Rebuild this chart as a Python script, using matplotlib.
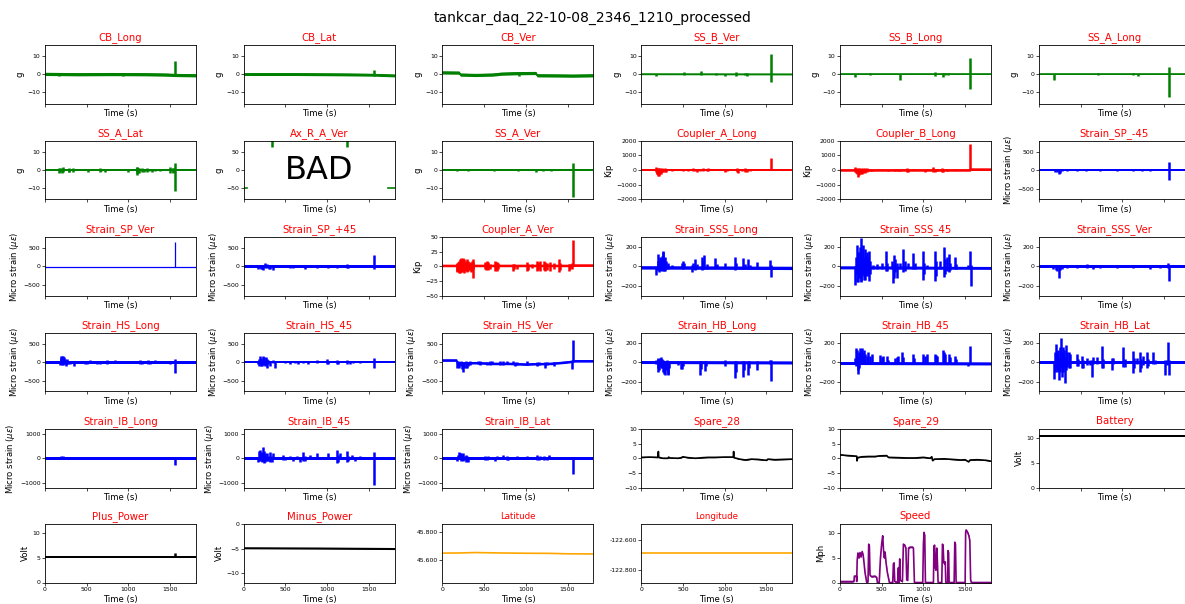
import numpy as np
import matplotlib
matplotlib.use("Agg")
import matplotlib.pyplot as plt
from matplotlib.ticker import FormatStrFormatter

# ---------- channel data ----------
# *_BASE: slow trace as (time s, value)
# *_BURST: short oscillation bursts as (time s, min, max)

CB_LONG_BASE = [(0, 0.2), (400, 0.0), (800, 0.1), (1200, 0.0), (1450, -0.2),
                (1560, -0.4), (1810, -0.6)]
CB_LONG_BURST = [(162, -1.2, 0.5), (940, -1.0, 0.5), (1558, -1.0, 7.5)]
CB_LAT_BASE = [(0, 0.1), (600, 0.1), (1200, -0.1), (1560, -0.3), (1810, -0.7)]
CB_LAT_BURST = [(1562, -0.8, 2.5)]
CB_VER_BASE = [(0, 1.0), (200, 0.9), (215, -0.2), (400, -0.4), (600, -0.2), (700, 0.3),
               (900, 0.6), (1120, 0.7), (1135, -0.6), (1400, -0.7), (1560, -0.8),
               (1810, -0.6)]
CB_VER_BURST = [(920, -0.9, 0.6)]
SS_B_VER_BASE = [(0, 0.1), (1810, 0.0)]
SS_B_VER_BURST = [(176, -1.2, 0.4), (512, -0.3, 1.0), (716, -0.5, 1.6), (892, -0.3, 0.9),
                  (1004, -0.9, 0.4), (1136, -1.0, 1.2), (1244, -0.4, 0.8),
                  (1264, -0.8, 0.6), (1556, -4.5, 11.5)]
SS_B_LONG_BASE = [(0, 0.0), (1810, 0.0)]
SS_B_LONG_BURST = [(180, -1.5, 0.3), (360, -0.3, 0.6), (720, -3.0, 0.3), (1140, -0.8, 1.2),
                   (1232, -1.8, 0.8), (1260, -0.5, 0.6), (1300, -0.3, 0.6),
                   (1564, -8.5, 9.0)]
SS_A_LONG_BASE = [(0, 0.0), (1810, 0.0)]
SS_A_LONG_BURST = [(180, -3.0, 0.3), (712, -0.3, 0.5), (1132, -0.3, 0.8),
                   (1182, -0.8, 0.3), (1560, -12.5, 4.0)]
SS_A_LAT_BASE = [(0, 0.0), (1810, 0.0)]
SS_A_LAT_BURST = [(172, -1.5, 1.2), (180, -1.0, 1.0), (202, -1.8, 1.3), (220, -1.2, 1.5),
                  (282, -1.2, 1.0), (290, -1.0, 0.8), (340, -1.0, 1.2), (520, -1.0, 0.8),
                  (660, -1.2, 1.1), (668, -0.8, 0.8), (720, -1.3, 0.5), (1000, -1.0, 0.5),
                  (1100, -1.5, 1.5), (1106, -2.8, 1.8), (1112, -1.5, 1.2),
                  (1132, -1.5, 1.3), (1162, -1.2, 1.2), (1190, -1.3, 0.6),
                  (1222, -1.2, 1.0), (1250, -0.8, 0.8), (1282, -1.0, 0.6),
                  (1320, -0.8, 0.8), (1380, -0.6, 0.8), (1502, -1.5, 1.5),
                  (1532, -1.5, 1.2), (1540, -1.0, 1.0), (1560, -12.0, 3.8)]
AX_R_A_VER_BASE = [(0, -50), (36, -50), (37, np.nan), (1728, -50), (1810, -50)]
AX_R_A_VER_BURST = [(336, 64, 90), (1236, 64, 90)]
SS_A_VER_BASE = [(0, 0.0), (1810, 0.0)]
SS_A_VER_BURST = [(172, -0.8, 0.3), (302, -0.3, 0.6), (622, -0.8, 0.3), (902, -0.3, 0.7),
                  (1122, -1.0, 0.8), (1202, -0.7, 0.3), (1302, -0.3, 0.6),
                  (1564, -15.0, 4.0)]
COUPLER_A_LONG_BASE = [(0, 0), (1810, 0)]
COUPLER_A_LONG_BURST = [(176, -100, 200), (184, -250, 150), (192, -300, 100),
                        (200, -440, 120), (208, -400, 150), (216, -200, 100),
                        (224, -300, 150), (236, -250, 100), (248, -150, 120),
                        (264, -100, 100), (280, -150, 150), (296, -100, 100),
                        (364, -50, 100), (424, -30, 80), (504, -80, 30), (564, -50, 100),
                        (624, -80, 150), (640, -60, 60), (664, -100, 80), (704, -50, 80),
                        (744, -80, 120), (784, -80, 60), (804, -60, 150), (844, -30, 50),
                        (1004, -150, 50), (1024, -50, 100), (1144, -100, 150),
                        (1164, -200, 80), (1204, -50, 100), (1244, -150, 150),
                        (1264, -150, 50), (1304, -50, 100), (1404, -30, 50),
                        (1556, 0, 850)]
COUPLER_B_LONG_BASE = [(0, 0), (1562, 0), (1566, 50), (1810, 50)]
COUPLER_B_LONG_BURST = [(180, -100, 200), (190, -200, 150), (200, -300, 100),
                        (212, -450, 120), (224, -350, 150), (236, -200, 100),
                        (248, -300, 150), (260, -250, 100), (272, -200, 120),
                        (288, -150, 100), (304, -200, 150), (320, -100, 150),
                        (360, -50, 100), (380, -50, 30), (520, -30, 50), (580, -80, 30),
                        (660, -50, 100), (700, -50, 80), (720, -80, 30), (800, -100, 150),
                        (820, -100, 50), (880, -30, 50), (1020, -150, 30), (1040, -30, 50),
                        (1120, -150, 200), (1140, -150, 80), (1160, -50, 100),
                        (1220, -100, 150), (1240, -150, 60), (1280, -50, 100),
                        (1380, -30, 50), (1564, 0, 1800)]
STRAIN_SP_M45_BASE = [(0, 0), (1810, 0)]
STRAIN_SP_M45_BURST = [(192, -60, 20), (212, -40, 20), (240, -120, 20), (252, -80, 20),
                       (272, -20, 30), (332, -20, 20), (452, -20, 40), (560, -20, 30),
                       (732, -20, 30), (932, -20, 20), (1132, -20, 30), (1232, -20, 20),
                       (1332, -20, 20), (1560, -270, 230)]
STRAIN_SP_VER_BASE = [(0, -25), (1810, -25)]
STRAIN_SP_VER_BURST = [(1560, -25, 650)]
STRAIN_SP_P45_BASE = [(0, 0), (1810, 0)]
STRAIN_SP_P45_BURST = [(176, -80, 20), (190, -40, 50), (204, -70, 30), (220, -60, 40),
                       (236, -90, 30), (256, -40, 80), (276, -50, 60), (300, -60, 20),
                       (316, -60, 30), (356, -90, 20), (396, -20, 40), (476, -20, 30),
                       (556, -30, 50), (596, -50, 20), (676, -20, 40), (736, -70, 20),
                       (796, -20, 30), (876, -50, 20), (1016, -30, 20), (1116, -50, 50),
                       (1236, -50, 70), (1256, -40, 30), (1316, -20, 30), (1396, -20, 20),
                       (1564, -60, 300)]
COUPLER_A_VER_BASE = [(0, 1.5), (1560, 1.5), (1566, 2.0), (1810, 2.0)]
COUPLER_A_VER_BURST = [(172, -10, 5), (180, -8, 6), (188, -6, 8), (196, -12, 8),
                       (204, -8, 10), (212, -12, 12), (220, -10, 14), (228, -8, 10),
                       (236, -10, 12), (244, -6, 15), (252, -8, 10), (260, -12, 12),
                       (268, -6, 8), (280, -8, 10), (292, -10, 13), (300, -6, 8),
                       (312, -8, 10), (320, -6, 6), (330, -5, 8), (340, -10, 5),
                       (352, -6, 10), (364, -20, 13), (372, -5, 8), (512, -5, 8),
                       (524, -6, 5), (536, -5, 10), (552, -6, 8), (568, -5, 5),
                       (632, -8, 10), (644, -5, 8), (656, -8, 8), (672, -5, 6),
                       (852, -8, 5), (864, -5, 4), (892, -5, 3), (1012, -8, 8),
                       (1024, -6, 5), (1072, -3, 5), (1132, -8, 10), (1144, -6, 8),
                       (1164, -8, 10), (1212, -6, 10), (1232, -8, 8), (1252, -6, 6),
                       (1292, -8, 8), (1332, -5, 6), (1392, -10, 12), (1404, -6, 6),
                       (1512, -8, 5), (1532, -5, 5), (1552, -4, 6), (1564, 2, 46)]
STRAIN_SSS_LONG_BASE = [(0, -10), (1810, -15)]
STRAIN_SSS_LONG_BURST = [(176, -90, -10), (196, -40, 60), (204, -40, 130), (212, -60, 60),
                         (224, -40, 100), (236, -50, 80), (244, -30, 110), (256, -50, 160),
                         (264, -40, 150), (276, -50, 80), (288, -50, 100), (300, -30, 60),
                         (320, -30, 40), (364, -20, 20), (484, -20, 40), (500, -30, 60),
                         (516, -20, 40), (604, -60, 10), (624, -30, 40), (644, -40, 80),
                         (664, -30, 30), (724, -40, 100), (736, -30, 60), (752, -30, 120),
                         (784, -30, 30), (884, -20, 90), (904, -20, 30), (1004, -20, 40),
                         (1124, -40, 100), (1140, -30, 40), (1224, -30, 90),
                         (1240, -20, 30), (1284, -30, 75), (1300, -20, 20),
                         (1384, -20, 50), (1544, -10, 70), (1556, -110, 20)]
STRAIN_SSS_45_BASE = [(0, -10), (1810, -15)]
STRAIN_SSS_45_BURST = [(180, -190, 0), (192, -80, 100), (200, -160, 220), (212, -100, 150),
                       (220, -160, 120), (232, -120, 150), (240, -80, 200),
                       (248, -150, 290), (256, -160, 180), (268, -100, 150),
                       (280, -80, 220), (292, -140, 100), (300, -140, 180),
                       (312, -100, 120), (324, -80, 150), (340, -100, 100),
                       (352, -150, 160), (364, -80, 60), (400, -30, 20), (440, -30, 30),
                       (500, -30, 40), (552, -50, 160), (568, -50, 40), (620, -30, 60),
                       (640, -170, 20), (652, -120, 120), (664, -60, 80), (680, -120, 40),
                       (720, -30, 40), (760, -60, 180), (776, -50, 60), (820, -20, 40),
                       (880, -30, 140), (896, -30, 40), (1000, -140, 160),
                       (1012, -80, 40), (1040, -20, 20), (1140, -150, 160),
                       (1152, -100, 60), (1200, -30, 60), (1248, -110, 200),
                       (1260, -80, 80), (1280, -50, 100), (1308, -60, 130),
                       (1320, -40, 40), (1380, -30, 100), (1396, -30, 30),
                       (1540, -20, 20), (1560, -30, 160), (1568, -200, 20)]
STRAIN_SSS_VER_BASE = [(0, 0), (1810, 0)]
STRAIN_SSS_VER_BURST = [(172, -30, 10), (200, -40, 20), (212, -50, 10), (240, -120, 10),
                        (256, -40, 10), (272, -30, 10), (332, -20, 20), (452, -20, 20),
                        (572, -20, 30), (652, -30, 20), (732, -20, 20), (932, -20, 20),
                        (1132, -20, 20), (1332, -30, 20), (1452, -20, 20),
                        (1552, -20, 40), (1560, -150, 10)]
STRAIN_HS_LONG_BASE = [(0, -10), (1810, -10)]
STRAIN_HS_LONG_BURST = [(180, -80, 40), (188, -60, 170), (196, -40, 120), (204, -80, 150),
                        (212, -60, 80), (220, -80, 160), (232, -40, 130), (244, -60, 80),
                        (256, -100, 60), (268, -40, 80), (280, -60, 40), (300, -40, 30),
                        (348, -100, 20), (480, -40, 40), (500, -40, 30), (540, -30, 50),
                        (580, -30, 20), (620, -40, 30), (660, -40, 20), (740, -40, 60),
                        (760, -30, 30), (840, -20, 60), (880, -20, 20), (1000, -30, 40),
                        (1140, -50, 60), (1160, -40, 30), (1240, -40, 60),
                        (1260, -40, 30), (1320, -30, 50), (1380, -20, 40),
                        (1500, -40, 20), (1520, -20, 30), (1560, -300, 90)]
STRAIN_HS_45_BASE = [(0, 0), (1810, 0)]
STRAIN_HS_45_BURST = [(176, -40, 30), (188, -100, 80), (196, -60, 150), (208, -120, 120),
                      (216, -100, 60), (228, -60, 150), (240, -90, 130), (256, -120, 60),
                      (268, -80, 130), (280, -150, 80), (296, -60, 60), (316, -120, 40),
                      (356, -30, 60), (376, -150, 20), (496, -30, 40), (556, -40, 30),
                      (616, -20, 40), (656, -60, 20), (716, -20, 40), (776, -40, 20),
                      (876, -20, 50), (996, -40, 70), (1016, -40, 20), (1116, -40, 50),
                      (1136, -40, 20), (1236, -50, 60), (1276, -50, 20), (1316, -20, 40),
                      (1396, -20, 30), (1560, -150, 100)]
STRAIN_HS_VER_BASE = [(0, 50), (170, 50), (180, -30), (400, -20), (600, -40), (800, -40),
                      (1000, -60), (1100, -50), (1300, -40), (1450, -10), (1500, 0),
                      (1560, 20), (1570, 30), (1810, 30)]
STRAIN_HS_VER_BURST = [(180, -150, 20), (192, -100, 30), (204, -150, -20), (220, -120, 20),
                       (236, -200, 0), (252, -280, -30), (264, -150, 10), (280, -150, 20),
                       (292, -150, 0), (312, -100, 10), (332, -80, 20), (432, -60, 20),
                       (452, -70, 30), (532, -80, 10), (572, -80, 40), (592, -60, 30),
                       (692, -70, 20), (732, -70, 40), (772, -60, 30), (852, -60, 40),
                       (872, -100, 0), (892, -80, 0), (1012, -90, 30), (1132, -120, 0),
                       (1152, -80, 0), (1232, -150, 0), (1252, -80, 10), (1340, -100, 0),
                       (1556, -200, 0), (1564, 0, 600)]
STRAIN_HB_LONG_BASE = [(0, 0), (1810, -5)]
STRAIN_HB_LONG_BURST = [(176, -20, 20), (196, -60, 30), (204, -100, 40), (212, -80, 20),
                        (224, -40, 40), (236, -60, 50), (248, -60, 30), (264, -100, 20),
                        (276, -120, 10), (284, -130, 10), (296, -80, 10), (304, -60, 20),
                        (316, -120, 0), (324, -130, 0), (336, -60, 10), (444, -30, 10),
                        (476, -70, 10), (484, -70, 0), (496, -40, 10), (704, -130, 10),
                        (716, -70, 10), (764, -90, 10), (780, -40, 10), (1004, -40, 20),
                        (1124, -160, 10), (1132, -100, 10), (1224, -150, 10),
                        (1232, -80, 10), (1284, -130, 10), (1292, -60, 10),
                        (1384, -80, 10), (1548, -20, 20), (1556, -190, 20)]
STRAIN_HB_45_BASE = [(0, -10), (1810, -15)]
STRAIN_HB_45_BURST = [(180, -20, 40), (196, -40, 140), (204, -20, 120), (212, -80, 60),
                      (220, -120, 20), (232, -60, 100), (244, -20, 140), (256, -20, 120),
                      (268, -20, 140), (280, -20, 90), (292, -20, 120), (304, -20, 80),
                      (320, -20, 60), (340, -20, 100), (360, -20, 60), (380, -20, 80),
                      (480, -20, 70), (500, -20, 50), (520, -20, 60), (560, -20, 60),
                      (580, -20, 20), (660, -20, 40), (680, -20, 50), (700, -20, 60),
                      (740, -20, 100), (752, -20, 50), (880, -20, 80), (892, -20, 40),
                      (1000, -20, 80), (1020, -20, 60), (1040, -20, 80), (1140, -20, 80),
                      (1152, -20, 70), (1164, -20, 60), (1240, -20, 120),
                      (1252, -20, 100), (1264, -20, 80), (1308, -20, 80), (1320, -20, 50),
                      (1380, -20, 60), (1392, -20, 30), (1540, -40, -10), (1560, -20, 160)]
STRAIN_HB_LAT_BASE = [(0, 0), (1810, 0)]
STRAIN_HB_LAT_BURST = [(180, -170, 0), (188, -100, 100), (200, -60, 190), (212, -100, 100),
                       (224, -80, 120), (244, -180, 50), (252, -100, 150), (260, -50, 250),
                       (272, -150, 100), (284, -100, 150), (300, -60, 120),
                       (316, -220, 50), (328, -80, 170), (340, -50, 100), (356, -60, 100),
                       (372, -60, 80), (452, -40, 80), (472, -40, 30), (512, -60, 60),
                       (532, -60, 20), (572, -30, 40), (612, -30, 20), (632, -150, 20),
                       (652, -20, 50), (692, -20, 50), (752, -60, 160), (772, -60, 30),
                       (872, -80, 40), (892, -20, 40), (1012, -50, 150), (1032, -50, 30),
                       (1132, -110, 110), (1144, -60, 40), (1172, -20, 40),
                       (1212, -100, 100), (1224, -60, 30), (1252, -30, 60),
                       (1292, -60, 100), (1312, -40, 30), (1372, -20, 100),
                       (1392, -20, 20), (1512, -130, 20), (1532, -30, 20),
                       (1552, -20, 210), (1564, -130, 20)]
STRAIN_IB_LONG_BASE = [(0, 0), (1810, 0)]
STRAIN_IB_LONG_BURST = [(180, -30, 60), (192, -40, 80), (204, -30, 60), (220, -50, 80),
                        (236, -40, 40), (260, -30, 40), (300, -30, 20), (480, -20, 20),
                        (560, -20, 20), (660, -30, 20), (740, -20, 40), (860, -20, 30),
                        (1000, -20, 20), (1140, -20, 40), (1220, -20, 20),
                        (1300, -20, 30), (1560, -280, 0)]
STRAIN_IB_45_BASE = [(0, 0), (1810, 0)]
STRAIN_IB_45_BURST = [(176, -150, 30), (188, -100, 300), (196, -60, 350), (208, -100, 200),
                      (220, -150, 250), (236, -100, 450), (248, -200, 300),
                      (260, -150, 200), (276, -100, 200), (296, -100, 100),
                      (316, -150, 250), (336, -150, 100), (356, -50, 200), (376, -50, 50),
                      (476, -80, 150), (496, -80, 50), (556, -50, 100), (596, -100, 50),
                      (636, -30, 80), (676, -150, 50), (716, -100, 250), (736, -100, 80),
                      (796, -50, 150), (876, -50, 200), (896, -30, 50), (1016, -50, 200),
                      (1036, -30, 50), (1116, -200, 350), (1128, -150, 150),
                      (1156, -50, 200), (1236, -150, 300), (1256, -100, 100),
                      (1296, -50, 150), (1336, -100, 50), (1396, -30, 80), (1556, 0, 250),
                      (1564, -1100, 0)]
STRAIN_IB_LAT_BASE = [(0, 0), (1810, 0)]
STRAIN_IB_LAT_BURST = [(172, -100, 50), (184, -50, 150), (196, -40, 250), (208, -50, 200),
                       (220, -100, 200), (236, -60, 150), (252, -100, 200), (268, -80, 100),
                       (280, -150, 150), (296, -100, 100), (312, -150, 50), (352, -50, 50),
                       (372, -50, 30), (512, -80, 100), (532, -80, 50), (552, -40, 100),
                       (632, -100, 40), (652, -50, 100), (672, -50, 30), (732, -50, 150),
                       (752, -50, 60), (772, -80, 100), (792, -80, 30), (892, -50, 100),
                       (912, -50, 30), (1012, -50, 100), (1032, -50, 30),
                       (1132, -80, 150), (1152, -80, 60), (1172, -30, 100),
                       (1212, -60, 80), (1252, -60, 40), (1272, -50, 120),
                       (1292, -50, 30), (1412, -20, 50), (1564, -650, 0)]
SPARE_28_BASE = [(0, 0.3), (100, 0.4), (200, 0.3), (206, 2.3), (210, 0.3), (260, 0.0),
                 (320, 0.0), (330, 0.4), (340, 0.1), (440, 0.0), (480, 0.2), (500, 0.5),
                 (560, 0.2), (650, 0.0), (740, 0.2), (800, 0.3), (880, 0.3), (1000, 0.4),
                 (1104, 0.4), (1108, 2.3), (1112, 0.2), (1180, -0.3), (1250, -0.6),
                 (1320, -0.3), (1400, -0.4), (1500, -0.7), (1520, -0.3), (1600, -0.5),
                 (1700, -0.4), (1810, -0.3)]
SPARE_29_BASE = [(0, 1.2), (60, 1.0), (100, 0.9), (160, 0.8), (200, 0.7), (204, -0.9),
                 (210, 0.2), (260, 0.5), (340, 0.6), (420, 0.6), (470, 0.8), (560, 0.9),
                 (580, 0.3), (700, 0.2), (800, 0.1), (900, 0.1), (1000, 0.3), (1080, 0.0),
                 (1100, 0.5), (1110, -0.8), (1130, -0.3), (1250, -0.2), (1350, -0.4),
                 (1450, -0.6), (1500, -0.5), (1540, -1.2), (1560, -0.6), (1650, -0.5),
                 (1750, -0.7), (1810, -1.0)]
BATTERY_BASE = [(0, 10.5), (1810, 10.5)]
PLUS_POWER_BASE = [(0, 5.2), (1810, 5.2)]
PLUS_POWER_BURST = [(1558, 5.2, 6.0)]
MINUS_POWER_BASE = [(0, -4.9), (900, -4.95), (1810, -5.05)]
LATITUDE_BASE = [(0, 45.647), (200, 45.648), (400, 45.651), (700, 45.648), (1000, 45.646),
                 (1300, 45.645), (1500, 45.642), (1810, 45.641)]
LONGITUDE_BASE = [(0, -122.687), (1810, -122.687)]
SPEED_BASE = [(0, 0.2), (150, 0.2), (168, 0.3), (172, 1.3), (198, 1.3), (200, 0.2),
              (206, 4.5), (215, 6.0), (228, 5.0), (240, 6.1), (252, 5.2), (266, 6.3),
              (278, 5.5), (288, 4.0), (300, 2.0), (320, 0.0), (336, 0.2), (344, 7.8),
              (352, 7.5), (360, 1.5), (376, 1.2), (420, 1.3), (440, 1.0), (448, 0.0),
              (470, 0.0), (485, 5.0), (500, 8.0), (512, 9.5), (522, 6.5), (532, 5.0),
              (540, 6.2), (552, 4.0), (568, 2.0), (592, 0.0), (632, 0.0), (640, 3.8),
              (648, 4.0), (656, 0.2), (690, 0.0), (700, 3.0), (706, 0.0), (716, 4.8),
              (722, 0.5), (748, 0.2), (760, 7.8), (776, 7.6), (790, 7.0), (800, 0.5),
              (812, 0.5), (822, 7.0), (840, 7.2), (870, 7.2), (880, 7.0), (892, 0.0),
              (992, 0.0), (1000, 8.0), (1008, 10.2), (1016, 9.5), (1024, 0.0),
              (1120, 0.0), (1126, 7.4), (1134, 7.6), (1142, 3.0), (1150, 2.5),
              (1160, 7.0), (1166, 5.0), (1176, 0.0), (1220, 0.0), (1228, 7.8),
              (1236, 7.5), (1244, 4.0), (1256, 3.8), (1262, 4.2), (1268, 0.0),
              (1290, 0.0), (1296, 6.5), (1302, 6.0), (1308, 0.0), (1368, 0.0),
              (1376, 8.2), (1384, 7.8), (1392, 0.0), (1500, 0.0), (1506, 10.2),
              (1512, 10.7), (1530, 10.2), (1545, 9.5), (1556, 8.5), (1566, 0.5),
              (1575, 0.0), (1810, 0.0)]

X_TICKS = [0, 500, 1000, 1500]
X_MAX = 1810

# ---------- panel styles ----------

MU = r"Micro strain ($\mu\epsilon$)"
G_STYLE = dict(color="green", ylabel="g", ylim=(-16.4, 16.4), yticks=[-10, 0, 10])
SP_STYLE = dict(color="blue", ylabel=MU, ylim=(-790, 790), yticks=[-500, 0, 500])
SSS_STYLE = dict(color="blue", ylabel=MU, ylim=(-300, 300), yticks=[-200, 0, 200])
IB_STYLE = dict(color="blue", ylabel=MU, ylim=(-1200, 1200), yticks=[-1000, 0, 1000])
KIP_STYLE = dict(color="red", ylabel="Kip", ylim=(-2000, 2000),
                 yticks=[-2000, -1000, 0, 1000, 2000])
SPARE_STYLE = dict(color="black", ylabel="", ylim=(-10, 10), yticks=[-10, -5, 0, 5, 10])
VOLT_STYLE = dict(color="black", ylabel="Volt", ylim=(0, 11.9), yticks=[0, 5, 10])

PANELS = [
    ("CB_Long", CB_LONG_BASE, CB_LONG_BURST, dict(G_STYLE, band=0.9)),
    ("CB_Lat", CB_LAT_BASE, CB_LAT_BURST, dict(G_STYLE, band=0.8)),
    ("CB_Ver", CB_VER_BASE, CB_VER_BURST, dict(G_STYLE, band=0.9)),
    ("SS_B_Ver", SS_B_VER_BASE, SS_B_VER_BURST, dict(G_STYLE, band=0.35)),
    ("SS_B_Long", SS_B_LONG_BASE, SS_B_LONG_BURST, dict(G_STYLE, band=0.35)),
    ("SS_A_Long", SS_A_LONG_BASE, SS_A_LONG_BURST, dict(G_STYLE, band=0.35)),
    ("SS_A_Lat", SS_A_LAT_BASE, SS_A_LAT_BURST, dict(G_STYLE, band=0.45)),
    ("Ax_R_A_Ver", AX_R_A_VER_BASE, AX_R_A_VER_BURST,
     dict(G_STYLE, ylim=(-82, 82), yticks=[-50, 0, 50], band=0, bad=True)),
    ("SS_A_Ver", SS_A_VER_BASE, SS_A_VER_BURST, dict(G_STYLE, band=0.45)),
    ("Coupler_A_Long", COUPLER_A_LONG_BASE, COUPLER_A_LONG_BURST, dict(KIP_STYLE, band=80)),
    ("Coupler_B_Long", COUPLER_B_LONG_BASE, COUPLER_B_LONG_BURST, dict(KIP_STYLE, band=80)),
    ("Strain_SP_-45", STRAIN_SP_M45_BASE, STRAIN_SP_M45_BURST, dict(SP_STYLE, band=36)),
    ("Strain_SP_Ver", STRAIN_SP_VER_BASE, STRAIN_SP_VER_BURST,
     dict(SP_STYLE, band=0, lw=0.9, blw=0.9)),
    ("Strain_SP_+45", STRAIN_SP_P45_BASE, STRAIN_SP_P45_BURST, dict(SP_STYLE, band=36)),
    ("Coupler_A_Ver", COUPLER_A_VER_BASE, COUPLER_A_VER_BURST,
     dict(KIP_STYLE, ylim=(-50, 50), yticks=[-50, -25, 0, 25, 50], band=2.0)),
    ("Strain_SSS_Long", STRAIN_SSS_LONG_BASE, STRAIN_SSS_LONG_BURST,
     dict(SSS_STYLE, band=17)),
    ("Strain_SSS_45", STRAIN_SSS_45_BASE, STRAIN_SSS_45_BURST, dict(SSS_STYLE, band=15)),
    ("Strain_SSS_Ver", STRAIN_SSS_VER_BASE, STRAIN_SSS_VER_BURST, dict(SSS_STYLE, band=20)),
    ("Strain_HS_Long", STRAIN_HS_LONG_BASE, STRAIN_HS_LONG_BURST, dict(SP_STYLE, band=36)),
    ("Strain_HS_45", STRAIN_HS_45_BASE, STRAIN_HS_45_BURST, dict(SP_STYLE, band=36)),
    ("Strain_HS_Ver", STRAIN_HS_VER_BASE, STRAIN_HS_VER_BURST, dict(SP_STYLE, band=32)),
    ("Strain_HB_Long", STRAIN_HB_LONG_BASE, STRAIN_HB_LONG_BURST, dict(SSS_STYLE, band=15)),
    ("Strain_HB_45", STRAIN_HB_45_BASE, STRAIN_HB_45_BURST, dict(SSS_STYLE, band=15)),
    ("Strain_HB_Lat", STRAIN_HB_LAT_BASE, STRAIN_HB_LAT_BURST, dict(SSS_STYLE, band=15)),
    ("Strain_IB_Long", STRAIN_IB_LONG_BASE, STRAIN_IB_LONG_BURST, dict(IB_STYLE, band=55)),
    ("Strain_IB_45", STRAIN_IB_45_BASE, STRAIN_IB_45_BURST, dict(IB_STYLE, band=55)),
    ("Strain_IB_Lat", STRAIN_IB_LAT_BASE, STRAIN_IB_LAT_BURST, dict(IB_STYLE, band=55)),
    ("Spare_28", SPARE_28_BASE, [], dict(SPARE_STYLE, band=0.12)),
    ("Spare_29", SPARE_29_BASE, [], dict(SPARE_STYLE, band=0.12)),
    ("Battery", BATTERY_BASE, [], dict(VOLT_STYLE, band=0.15)),
    ("Plus_Power", PLUS_POWER_BASE, PLUS_POWER_BURST, dict(VOLT_STYLE, band=0.15)),
    ("Minus_Power", MINUS_POWER_BASE, [],
     dict(VOLT_STYLE, ylim=(-11.9, 0), yticks=[-10, -5, 0], band=0.15)),
    ("Latitude", LATITUDE_BASE, [], dict(color="orange", ylabel="", ylim=(45.436, 45.856),
                                         yticks=[45.6, 45.8], band=0, fmt="%.3f",
                                         small=True)),
    ("Longitude", LONGITUDE_BASE, [], dict(color="orange", ylabel="",
                                           ylim=(-122.887, -122.49),
                                           yticks=[-122.8, -122.6], band=0, fmt="%.3f",
                                           small=True)),
    ("Speed", SPEED_BASE, [], dict(color="purple", ylabel="Mph", ylim=(0, 11.9),
                                   yticks=[0, 5, 10], band=0.15)),
]

# ---------- figure ----------

W, H = 1185, 604
fig = plt.figure(figsize=(W / 100, H / 100), dpi=100)

LEFTS = [45, 243.7, 442.4, 641.2, 840, 1039]
TOPS = [45, 140.8, 237.2, 332.8, 429, 524]
AX_W, AX_H = 151, 58.5

fig.text(0.5, 1 - 18 / H, "tankcar_daq_22-10-08_2346_1210_processed",
         ha="center", va="center", fontsize=10)

for i, (name, base, burst, st) in enumerate(PANELS):
    row, col = divmod(i, 6)
    ax = fig.add_axes([LEFTS[col] / W, 1 - (TOPS[row] + AX_H) / H, AX_W / W, AX_H / H])
    c = st["color"]
    lw = st.get("lw", 1.2)

    t, v = np.array(base, dtype=float).T
    if st["band"] > 0:
        ax.fill_between(t, v - st["band"], v + st["band"], color=c, lw=0)
    ax.plot(t, v, color=c, lw=lw)
    if burst:
        bt, lo, hi = np.array(burst, dtype=float).T
        ax.vlines(bt, lo, hi, color=c, lw=st.get("blw", 1.8))

    ax.set_xlim(0, X_MAX)
    ax.set_xticks(X_TICKS)
    ax.set_ylim(*st["ylim"])
    ax.set_yticks(st["yticks"])
    if "fmt" in st:
        ax.yaxis.set_major_formatter(FormatStrFormatter(st["fmt"]))

    ax.tick_params(labelsize=4.4, length=2, width=0.5, pad=1.2)
    if row < 5:
        ax.tick_params(labelbottom=False)
    for sp in ax.spines.values():
        sp.set_linewidth(0.6)

    ax.set_title(name, color="red", fontsize=6.2 if st.get("small") else 7.3, pad=3.5)
    ax.set_xlabel("Time (s)", fontsize=6.1, labelpad=2)
    if st["ylabel"]:
        ax.set_ylabel(st["ylabel"], fontsize=6.1, labelpad=2)

    if st.get("bad"):
        ax.text(0.5, 0.5, "BAD", transform=ax.transAxes, ha="center", va="center",
                fontsize=23)

fig.savefig("out.png", dpi=100)
